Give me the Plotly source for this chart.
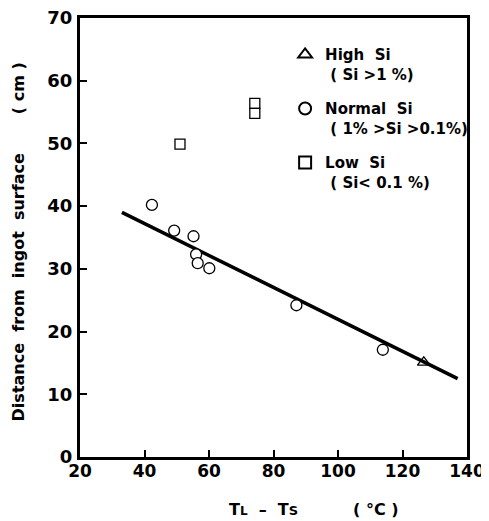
import plotly.graph_objects as go

# Data
high_x = [126.6]
high_y = [15.1]
normal_x = [42.3, 49.2, 55.2, 56.0, 56.5, 60.1, 87.1, 113.9]
normal_y = [40.2, 36.1, 35.2, 32.3, 30.9, 30.1, 24.2, 17.1]
low_x = [51.0, 74.2, 74.2]
low_y = [49.9, 56.4, 54.8]
fit_x = [33.0, 137.1]
fit_y = [39.0, 12.5]

x_ticks = [20, 40, 60, 80, 100, 120, 140]
x_ticklabels = ["20", "40", "60", "80", "100", "120", "140"]
y_ticks = [0, 10, 20, 30, 40, 50, 60, 70]
y_ticklabels = ["0", "10", "20", "30", "40", "50", "60", "70"]

FONT = "DejaVu Sans"
mk_line = dict(color="black", width=1.3)

fig = go.Figure()
fig.add_trace(go.Scatter(x=fit_x, y=fit_y, mode="lines",
                         line=dict(color="black", width=3.5),
                         showlegend=False, hoverinfo="skip"))
fig.add_trace(go.Scatter(x=high_x, y=high_y, mode="markers", legendgroup="a",
                         name="High  Si<br> ( Si &gt;1 %)",
                         marker=dict(symbol="triangle-up-open", size=11, color="black", line=mk_line)))
fig.add_trace(go.Scatter(x=normal_x, y=normal_y, mode="markers", legendgroup="b",
                         name="Normal  Si<br> ( 1% &gt;Si &gt;0.1%)",
                         marker=dict(symbol="circle", size=11, color="white", line=mk_line)))
fig.add_trace(go.Scatter(x=low_x, y=low_y, mode="markers", legendgroup="c",
                         name="Low  Si<br> ( Si&lt; 0.1 %)",
                         marker=dict(symbol="square", size=10, color="white", line=mk_line)))

fig.update_layout(
    width=489, height=521,
    margin=dict(l=72, r=30, t=10, b=72),
    paper_bgcolor="white", plot_bgcolor="white",
    font=dict(family=FONT, color="black", size=16, weight="bold"),
    showlegend=True,
    legend=dict(x=0.53, y=0.954, xanchor="left", yanchor="top",
                bgcolor="rgba(0,0,0,0)", borderwidth=0,
                font=dict(family=FONT, size=15, color="black", weight="bold"),
                valign="top", itemsizing="constant", tracegroupgap=12),
    xaxis=dict(range=[20, 140], tickvals=x_ticks, ticktext=x_ticklabels,
               showgrid=False, zeroline=False, automargin=False,
               showline=True, linecolor="black", linewidth=3, mirror=True,
               ticks="inside", ticklen=7, tickwidth=1.5, tickcolor="black",
               ticklabelstandoff=-3, ticklabeloverflow="allow",
               tickfont=dict(family=FONT, size=17, weight="bold")),
    yaxis=dict(range=[0, 70], tickvals=y_ticks, ticktext=y_ticklabels,
               showgrid=False, zeroline=False, automargin=False,
               showline=True, linecolor="black", linewidth=3, mirror=True,
               ticks="inside", ticklen=7, tickwidth=1.5, tickcolor="black",
               ticklabelstandoff=1, ticklabeloverflow="allow",
               tickfont=dict(family=FONT, size=18, weight="bold")),
)

fig.add_annotation(text="Distance  from  ingot  surface       ( cm )",
                   xref="paper", yref="paper", x=-0.16, y=0.489, textangle=-90,
                   xanchor="center", yanchor="middle", showarrow=False,
                   font=dict(family=FONT, size=16, weight="bold"))
fig.add_annotation(text="T<span style='font-size:12px'>L</span>  \u2013  T<span style='font-size:13px'>S</span>",
                   xref="paper", yref="paper", x=0.475, y=-0.12,
                   xanchor="center", yanchor="middle", showarrow=False,
                   font=dict(family=FONT, size=16, weight="bold"))
fig.add_annotation(text="( \u00b0C )",
                   xref="paper", yref="paper", x=0.765, y=-0.12,
                   xanchor="center", yanchor="middle", showarrow=False,
                   font=dict(family=FONT, size=16, weight="bold"))

fig.write_html("out.html")
